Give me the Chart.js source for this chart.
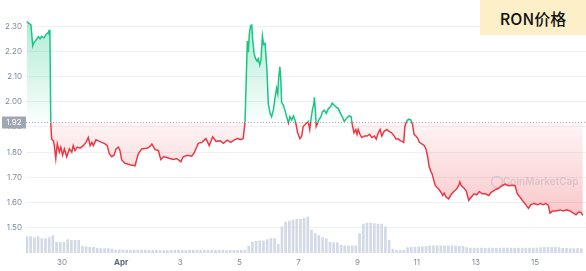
<!DOCTYPE html>
<html><head><meta charset="utf-8">
<script src="https://cdn.jsdelivr.net/npm/chart.js@4"></script>
<style>
html,body{margin:0;padding:0;background:#fff;}
#wrap{position:relative;width:586px;height:271px;overflow:hidden;}
#title{position:absolute;left:480px;top:0;width:106px;height:35px;background:#fdf0c9;font:500 16px "Noto Sans CJK SC","Noto Sans",sans-serif;color:#111;display:flex;align-items:center;justify-content:center;}
</style></head>
<body>
<div id="wrap"><canvas id="c" width="586" height="271"></canvas><div id="title">RON价格</div></div>
<script>
// time in days relative to Mar 30 00:00
const priceTimes = [-1.19,-1.12,-1.05,-0.99,-0.95,-0.86,-0.80,-0.74,-0.69,-0.61,-0.54,-0.48,-0.45,-0.43,-0.41,-0.38,-0.35,-0.29,-0.26,-0.21,-0.16,-0.09,-0.04,0.02,0.08,0.16,0.25,0.33,0.38,0.44,0.52,0.61,0.72,0.81,0.89,0.95,1.01,1.06,1.15,1.23,1.34,1.46,1.53,1.60,1.68,1.76,1.83,1.91,1.96,2.02,2.13,2.30,
2.47,2.58,2.70,2.87,2.95,3.04,3.15,3.26,3.34,3.43,3.54,3.65,3.77,3.88,4.02,4.10,4.24,4.39,4.47,4.61,4.73,4.87,4.98,5.10,5.21,5.35,5.46,5.59,5.71,5.82,5.93,6.05,6.13,
6.19,6.27,6.30,6.34,6.38,6.42,6.45,6.50,6.55,6.60,6.64,6.69,6.73,6.78,6.82,6.87,6.93,6.98,7.04,7.09,7.15,7.21,7.26,7.30,7.33,7.37,7.40,7.43,7.49,7.54,7.60,7.66,7.71,7.77,7.83,7.88,7.92,7.97,8.05,8.11,8.16,8.22,8.28,8.33,8.38,8.42,8.47,8.52,8.54,8.57,8.60,8.65,8.69,8.76,8.81,8.87,8.94,9.01,9.08,9.14,9.21,9.28,9.35,9.42,9.48,9.55,9.63,9.71,9.78,9.82,
9.88,9.94,9.98,10.02,10.08,10.14,10.23,10.32,10.41,10.48,10.57,10.63,10.70,10.76,10.82,10.90,10.99,11.06,11.15,11.24,11.30,11.38,11.45,11.51,11.56,11.60,11.66,11.72,11.80,11.86,11.91,11.97,12.03,12.09,12.17,12.26,12.31,12.37,12.42,12.48,12.53,12.57,
12.63,12.74,12.82,12.88,12.93,12.99,13.08,13.16,13.25,13.35,13.42,13.46,13.51,13.58,13.67,13.76,13.85,13.94,14.03,14.12,14.21,14.32,14.44,14.52,14.61,
14.65,14.76,14.88,14.99,15.10,15.21,15.33,15.40,15.49,15.61,15.70,15.78,15.86,15.97,16.08,16.19,16.28,16.37,16.45,16.51,16.60,16.71,16.85,16.96,17.07,17.19,17.30,17.39,17.47,17.55,17.62];
const prices = [2.318,2.311,2.305,2.222,2.235,2.248,2.258,2.250,2.260,2.254,2.267,2.273,2.280,2.267,2.286,1.916,1.852,1.845,1.826,1.775,1.833,1.800,1.820,1.788,1.813,1.782,1.813,1.800,1.826,1.807,1.820,1.816,1.826,1.839,1.858,1.826,1.839,1.826,1.849,1.845,1.839,1.833,1.826,1.794,1.782,1.788,1.813,1.820,1.807,1.769,1.756,1.750,
1.746,1.794,1.813,1.816,1.820,1.832,1.810,1.807,1.771,1.782,1.779,1.775,1.771,1.775,1.762,1.782,1.788,1.784,1.797,1.835,1.839,1.854,1.826,1.861,1.843,1.845,1.835,1.848,1.839,1.848,1.854,1.850,1.854,
1.916,2.241,2.197,2.273,2.301,2.305,2.248,2.190,2.171,2.161,2.171,2.146,2.165,2.261,2.228,2.232,2.133,1.992,1.954,1.941,1.967,2.018,2.054,2.031,2.094,2.139,2.094,1.998,1.986,1.967,1.941,1.916,1.941,1.928,1.944,1.928,1.909,1.877,1.854,1.864,1.902,1.909,1.916,1.922,1.890,1.928,1.967,1.992,2.018,1.967,1.902,1.916,1.928,1.941,1.960,1.967,1.954,1.973,1.979,1.995,1.986,1.979,1.973,1.954,1.941,1.922,1.935,1.944,1.941,1.909,
1.877,1.890,1.871,1.890,1.871,1.858,1.864,1.864,1.871,1.858,1.864,1.852,1.877,1.890,1.864,1.883,1.890,1.883,1.877,1.864,1.852,1.852,1.845,1.843,1.839,1.902,1.922,1.931,1.928,1.909,1.871,1.864,1.856,1.839,1.833,1.826,1.813,1.782,1.743,1.724,1.711,1.692,
1.667,1.654,1.641,1.628,1.638,1.622,1.615,1.631,1.644,1.654,1.667,1.682,1.667,1.660,1.648,1.609,1.622,1.635,1.631,1.644,1.635,1.635,1.628,1.641,1.648,
1.651,1.656,1.667,1.673,1.667,1.669,1.667,1.635,1.622,1.603,1.590,1.577,1.592,1.596,1.592,1.596,1.592,1.596,1.590,1.558,1.567,1.567,1.571,1.567,1.571,1.567,1.558,1.552,1.562,1.562,1.549];
// volume, 3-hour buckets (relative units)
const volStartDay = -1.184;
const volStepDays = 0.125;
const volumes = [17,17,16,17,15,15,16,18,11,11,
11,14,13,13,13,7,6.5,6,6,5,
4.7,4.5,4.5,4,3,3.2,3,3,2.8,3,
3,3,3,2.8,3,3,2.8,2.5,2.5,2.8,
2.8,3,2.8,2.8,3,2.8,2.8,2.7,2.7,2.8,
2.8,2.7,2.8,2.7,2.6,2.7,2.7,2.8,2.7,3,
7,11,12,12.5,12.5,14,15,15,9,27,
32,33,34,35,35,36,37.5,24,20,18,
16,15,11,10.5,10.5,8,7.3,7.3,7.3,7.3,
20,30,31,31,30.5,30,30,27,13,4,
2.7,2.7,3,5.5,6,6,6.3,6.5,7,7.3,
7.3,7.5,7.3,7.5,7.3,7.5,7.3,7,6.8,5.5,
5,5,5.2,5,4.8,5,5,4.8,5,5,
5.2,5,4.8,5,5,5,5.2,5,5,5.5,
5.8,6,6,6,5.5,4.8,4.8,4.7,4.7,4.7,
4.5];
const baseline = 1.92;
const yTicks = [1.50,1.60,1.70,1.80,1.90,2.00,2.10,2.20,2.30];
const xTickDays = [0,2,4,6,8,10,12,14,16];
const xTickLabels = ['30','Apr','3','5','7','9','11','13','15'];

const GREEN = [22,199,132], RED = [234,57,67];
const rgba = (c,a) => `rgba(${c[0]},${c[1]},${c[2]},${a})`;

function stopsFor(chart){
  const a = chart.chartArea, y = chart.scales.y;
  const f = p => Math.min(1, Math.max(0, (p - a.top)/(a.bottom - a.top)));
  return {a, f, top: f(y.getPixelForValue(yTicks[yTicks.length-1])), base: f(y.getPixelForValue(baseline)), low: f(y.getPixelForValue(1.55))};
}
function fillGradient(ctx){
  const chart = ctx.chart; if(!chart.chartArea) return 'rgba(0,0,0,0)';
  const s = stopsFor(chart);
  const g = chart.ctx.createLinearGradient(0, s.a.top, 0, s.a.bottom);
  g.addColorStop(s.top, rgba(GREEN,0.32));
  g.addColorStop(s.base - 0.002, rgba(GREEN,0.02));
  g.addColorStop(s.base, rgba(RED,0.05));
  g.addColorStop(s.low, rgba(RED,0.28));
  g.addColorStop(1, rgba(RED,0.3));
  return g;
}
function lineGradient(ctx){
  const chart = ctx.chart; if(!chart.chartArea) return rgba(RED,1);
  const s = stopsFor(chart);
  const g = chart.ctx.createLinearGradient(0, s.a.top, 0, s.a.bottom);
  g.addColorStop(0, rgba(GREEN,1));
  g.addColorStop(s.base, rgba(GREEN,1));
  g.addColorStop(s.base, rgba(RED,1));
  g.addColorStop(1, rgba(RED,1));
  return g;
}

const overlay = {
  id: 'overlay',
  beforeDatasetsDraw(chart){
    const {ctx, chartArea:a} = chart;
    ctx.save();
    ctx.globalAlpha = 0.45;
    ctx.strokeStyle = '#b4bfd0'; ctx.fillStyle = '#b4bfd0'; ctx.lineWidth = 1.4;
    const cx = a.right - 89, cy = 182;
    ctx.beginPath(); ctx.arc(cx, cy, 5.5, 0, Math.PI*2); ctx.stroke();
    ctx.font = '600 10px Inter, "Noto Sans", sans-serif';
    ctx.textBaseline = 'middle'; ctx.textAlign = 'left';
    ctx.fillText('CoinMarketCap', cx + 6, cy);
    ctx.restore();
  },
  afterDatasetsDraw(chart){
    const {ctx, chartArea:a, scales:{y}} = chart;
    const py = Math.round(y.getPixelForValue(baseline)) + 0.5;
    ctx.save();
    ctx.strokeStyle = '#a9b0bc'; ctx.lineWidth = 1; ctx.setLineDash([1,2]);
    ctx.beginPath(); ctx.moveTo(a.left, py); ctx.lineTo(a.right, py); ctx.stroke();
    ctx.setLineDash([]);
    ctx.fillStyle = '#a1a7b2';
    ctx.fillRect(2, py - 6, a.left - 2, 12);
    ctx.fillStyle = '#ffffff';
    ctx.font = '8px Inter, "Noto Sans", sans-serif';
    ctx.textAlign = 'center'; ctx.textBaseline = 'middle';
    ctx.fillText(baseline.toFixed(2), (a.left + 2)/2, py + 0.5);
    ctx.restore();
  }
};

new Chart(document.getElementById('c'), {
  data: {
    datasets: [
      {
        type: 'line',
        label: 'RON',
        data: priceTimes.map((t,i)=>({x:t, y:prices[i]})),
        yAxisID: 'y',
        borderColor: lineGradient,
        backgroundColor: fillGradient,
        borderWidth: 1.5,
        pointRadius: 0,
        tension: 0,
        fill: {target: {value: baseline}},
        order: 1
      },
      {
        type: 'bar',
        label: 'Volume',
        data: volumes.map((v,i)=>({x: volStartDay + i*volStepDays, y: v})),
        yAxisID: 'yv',
        backgroundColor: '#d3d9e5',
        barThickness: 2,
        order: 2
      }
    ]
  },
  options: {
    responsive: false,
    animation: false,
    layout: {padding: {top: 0, right: 0, left: 0, bottom: 0}},
    plugins: {legend: {display: false}, tooltip: {enabled: false}},
    scales: {
      x: {
        type: 'linear',
        offset: false,
        min: -1.218, max: 17.727,
        grid: {display: false, drawTicks: false, offset: false},
        border: {display: false},
        afterBuildTicks: s => { s.ticks = xTickDays.map(v => ({value: v})); },
        afterFit: s => { s.height = 18; },
        ticks: {
          autoSkip: false, maxRotation: 0, padding: 5,
          color: (c) => c.index === 1 ? '#58667e' : '#808a9d',
          font: (c) => ({family: 'Inter', size: 8, weight: c.index === 1 ? 'bold' : 'normal'}),
          callback: (v, i) => xTickLabels[i]
        }
      },
      y: {
        position: 'left',
        min: 1.40, max: 2.369,
        grid: {color: '#eef1f5', drawTicks: false},
        border: {display: false},
        afterBuildTicks: s => { s.ticks = yTicks.map(v => ({value: v})); },
        afterFit: s => { s.width = 26; },
        ticks: {padding: 4, color: '#808a9d', font: {family: 'Inter', size: 8}, callback: v => Number(v).toFixed(2)}
      },
      yv: {
        display: false,
        min: 0, max: 253
      }
    }
  },
  plugins: [overlay]
});
</script>
</body></html>
